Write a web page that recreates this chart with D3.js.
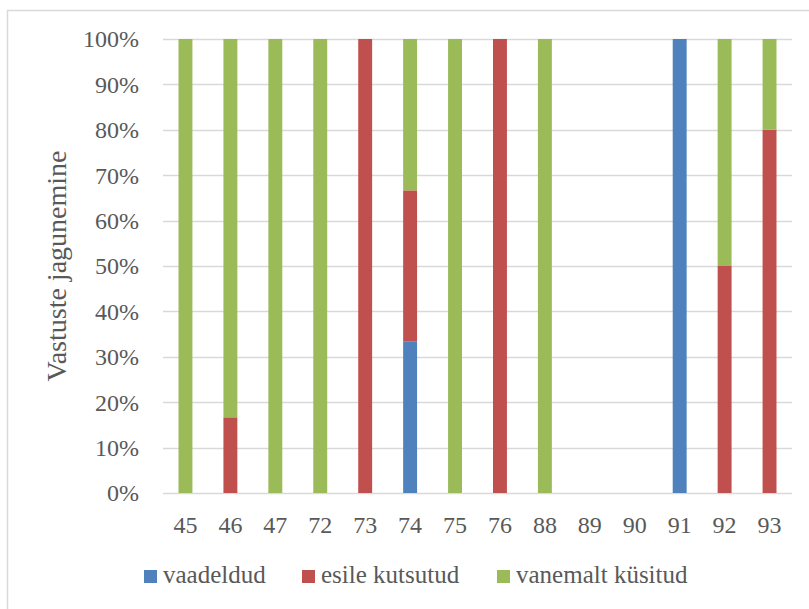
<!DOCTYPE html>
<html><head><meta charset="utf-8">
<script src="https://cdn.jsdelivr.net/npm/d3@7"></script>
<style>body{margin:0;background:#fff}svg{display:block}</style>
</head><body>
<script>
const categories = ["45","46","47","72","73","74","75","76","88","89","90","91","92","93"];
const seriesNames = ["vaadeldud","esile kutsutud","vanemalt küsitud"];
const vaadeldud = [0,0,0,0,0,33.33,0,0,0,0,0,100,0,0];
const esileKutsutud = [0,16.67,0,0,100,33.33,0,100,0,0,0,0,50,80];
const vanemaltKusitud = [100,83.33,100,100,0,33.34,100,0,100,0,0,0,50,20];
const yTicks = [0,10,20,30,40,50,60,70,80,90,100];
const colors = ["#4f81bd","#c0504d","#9bbb59"];

const W=809,H=609;
const svg=d3.select("body").append("svg").attr("width",W).attr("height",H);
const font="'Liberation Serif', serif";
const txt="#595959";

// chart frame
svg.append("rect").attr("x",7.5).attr("y",10.5).attr("width",W+20).attr("height",H+20)
  .attr("fill","none").attr("stroke","#d9d9d9").attr("stroke-width",1.5);

const x0=163,x1=792,y0=493,y1=39;
const x=d3.scaleBand().domain(categories).range([x0,x1]).paddingInner(0.69).paddingOuter(0.345);
const y=d3.scaleLinear().domain([0,100]).range([y0,y1]);

// gridlines
svg.append("g").selectAll("line").data(yTicks).join("line")
  .attr("x1",x0).attr("x2",x1).attr("y1",d=>Math.round(y(d))+0.5).attr("y2",d=>Math.round(y(d))+0.5)
  .attr("stroke","#d9d9d9").attr("stroke-width",1.5);

// stacked data
const rows=categories.map((c,i)=>({cat:c,s0:vaadeldud[i],s1:esileKutsutud[i],s2:vanemaltKusitud[i]}));
const stack=d3.stack().keys(["s0","s1","s2"])(rows);
svg.append("g").selectAll("g").data(stack).join("g").attr("fill",(d,i)=>colors[i])
  .selectAll("rect").data(d=>d).join("rect")
  .attr("x",d=>x(d.data.cat)).attr("width",x.bandwidth())
  .attr("y",d=>y(d[1])).attr("height",d=>y(d[0])-y(d[1]));

// y axis labels
const yAxis=d3.axisLeft(y).tickValues(yTicks).tickFormat(d=>d+"%").tickSize(0).tickPadding(0);
const ga=svg.append("g").attr("transform",`translate(139,0)`).call(yAxis);
ga.select(".domain").remove();
ga.selectAll("text").attr("font-family",font).attr("font-size",24).attr("fill",txt).attr("dy","0.33em");

// x axis labels
const xAxis=d3.axisBottom(x).tickSize(0).tickPadding(0);
const gx=svg.append("g").attr("transform",`translate(0,${y0})`).call(xAxis);
gx.select(".domain").remove();
gx.selectAll("text").attr("font-family",font).attr("font-size",24).attr("fill",txt).attr("dy",null).attr("y",40);

// y title
svg.append("text").attr("transform",`translate(66,${(y0+y1)/2}) rotate(-90)`)
  .attr("text-anchor","middle").attr("font-family",font).attr("font-size",28).attr("fill",txt)
  .text("Vastuste jagunemine");

// legend
const legX=[144,302,497];
const lg=svg.append("g").selectAll("g").data(seriesNames).join("g")
  .attr("transform",(d,i)=>`translate(${legX[i]},570)`);
lg.append("rect").attr("width",13).attr("height",13).attr("fill",(d,i)=>colors[i]);
lg.append("text").attr("x",19).attr("y",13).attr("font-family",font).attr("font-size",25).attr("fill",txt).text(d=>d);
</script>
</body></html>
